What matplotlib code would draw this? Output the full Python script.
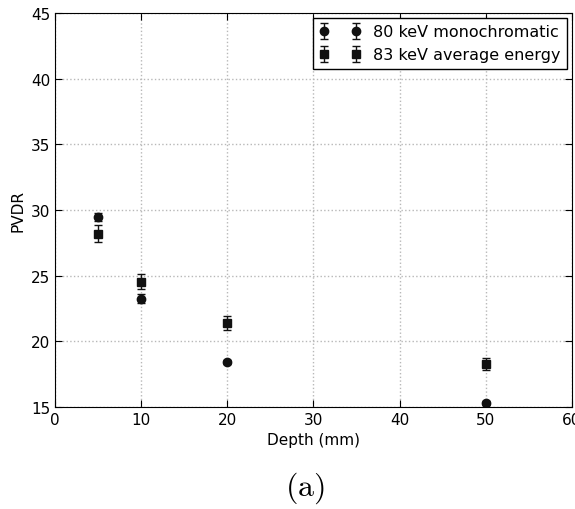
import matplotlib
matplotlib.use("Agg")
import matplotlib.pyplot as plt

depth = [5, 10, 20, 50]
mono_vals = [29.5, 23.25, 18.45, 15.3]
mono_err = [0.3, 0.35, 0.15, 0.15]
avg_vals = [28.2, 24.55, 21.4, 18.3]
avg_err = [0.65, 0.55, 0.5, 0.45]

plt.rcParams['mathtext.fontset'] = 'cm'
fig = plt.figure(figsize=(5.75, 5.10), dpi=100)
ax = fig.add_axes([0.0957, 0.2, 0.899, 0.7725])

ax.errorbar(depth, mono_vals, yerr=mono_err, fmt='o', color='#111111', ms=6,
            capsize=3, elinewidth=1, label='80 keV monochromatic')
ax.errorbar(depth, avg_vals, yerr=avg_err, fmt='s', color='#111111', ms=6,
            capsize=3, elinewidth=1, label='83 keV average energy')

ax.set_xlim(0, 60)
ax.set_ylim(15, 45)
ax.set_xticks(range(0, 61, 10))
ax.set_yticks(range(15, 46, 5))
ax.grid(True, linestyle=':', color='#b8b8b8', linewidth=1)
ax.tick_params(direction='in', top=True, right=True, labelsize=11, length=5)
ax.set_xlabel('Depth (mm)', fontsize=11)
ax.set_ylabel('PVDR', fontsize=11)
leg = ax.legend(loc='upper right', numpoints=2, fancybox=False, fontsize=11.5,
                framealpha=1, edgecolor='black', handlelength=2.6,
                borderaxespad=0.3)
leg.get_frame().set_linewidth(1)

fig.text(0.53, 0.043, r'$\mathrm{(a)}$', ha='center', va='center', fontsize=23)

fig.savefig('out.png', dpi=100)
